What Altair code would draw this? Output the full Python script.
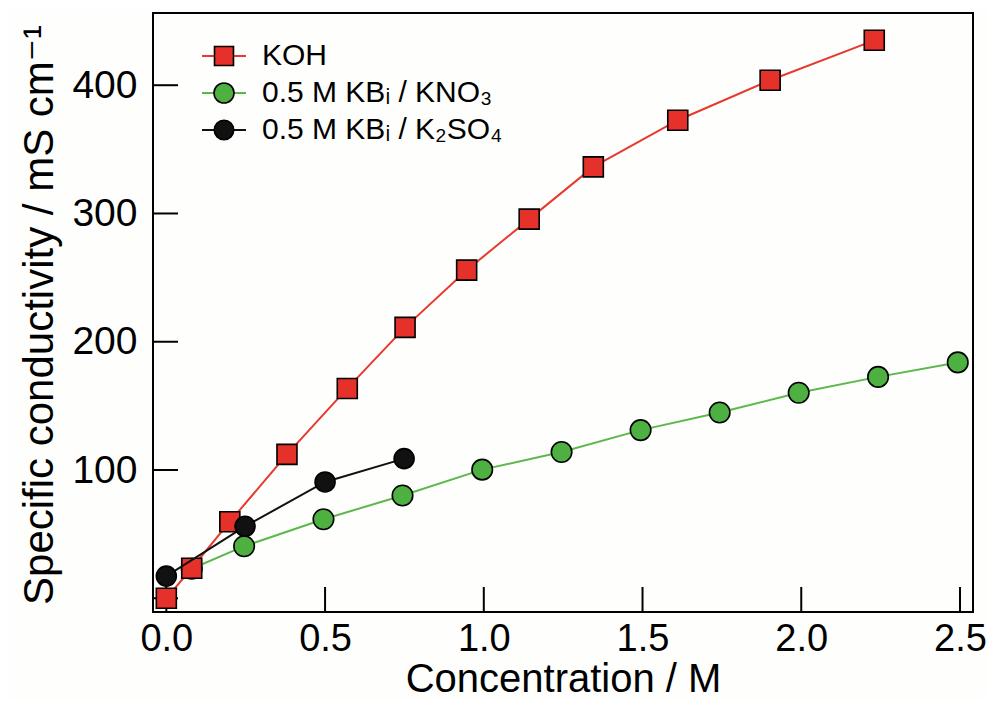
import altair as alt
import pandas as pd

# ---- data ----
koh_x = [0.0, 0.08, 0.2, 0.38, 0.57, 0.752, 0.946, 1.143, 1.345, 1.611, 1.902, 2.23]
koh_y = [0.0, 23.4, 59.7, 112.2, 163.6, 211.2, 255.8, 295.6, 336.3, 372.7, 403.9, 435.0]

kno3_x = [0.08, 0.245, 0.495, 0.744, 0.995, 1.245, 1.494, 1.743, 1.992, 2.242, 2.493]
kno3_y = [23.0, 40.6, 61.6, 80.1, 100.3, 114.0, 131.1, 144.8, 160.2, 172.6, 183.9]

k2so4_x = [0.0, 0.248, 0.5, 0.749]
k2so4_y = [17.3, 56.1, 90.7, 108.9]

x_ticks = [0.0, 0.5, 1.0, 1.5, 2.0, 2.5]
y_ticks = [0, 100, 200, 300, 400]
y_labels = [100, 200, 300, 400]

legend_labels = ["KOH", "0.5 M KBᵢ / KNO₃", "0.5 M KBᵢ / K₂SO₄"]

# ---- styles ----
RED = "#e6302a"
RED_LINE = "#e8392f"
GREEN = "#4db041"
GREEN_LINE = "#5cb84c"
BLACK = "#111111"
FONT = "Liberation Sans, Arial, DejaVu Sans"

W, H = 820, 599

xs = alt.Scale(domain=[-0.042, 2.541], nice=False, zero=False)
ys = alt.Scale(domain=[-10.7, 456.3], nice=False, zero=False)

xaxis = alt.Axis(values=x_ticks, format=".1f", title="Concentration / M",
                 ticks=False, domain=False, grid=False, labelPadding=8,
                 labelFontSize=38, titleFontSize=40, titleFontWeight="normal",
                 titleX=W / 2, titleY=79, titleBaseline="alphabetic", titleAlign="center")
yaxis = alt.Axis(values=y_labels, title="Specific conductivity / mS cm⁻¹",
                 ticks=False, domain=False, grid=False, labelPadding=16,
                 labelFontSize=39, titleFontSize=42, titleFontWeight="normal",
                 titleAngle=270, titleX=-101, titleY=H / 2 + 2, titleBaseline="alphabetic",
                 titleAlign="center")


def X(f="x"):
    return alt.X(f + ":Q", scale=xs, axis=xaxis)


def Y(f="y"):
    return alt.Y(f + ":Q", scale=ys, axis=yaxis)


def series(xv, yv, line_color, fill, shape, size):
    df = pd.DataFrame({"x": xv, "y": yv})
    line = alt.Chart(df).mark_line(color=line_color, strokeWidth=2).encode(x=X(), y=Y())
    pts = alt.Chart(df).mark_point(shape=shape, filled=True, fill=fill, stroke="black",
                                   strokeWidth=1.6, size=size, opacity=1).encode(x=X(), y=Y())
    return [line, pts]


layers = []
layers += series(kno3_x, kno3_y, GREEN_LINE, GREEN, "circle", 420)
layers += series(koh_x, koh_y, RED_LINE, RED, "square", 400)
layers += series(k2so4_x, k2so4_y, BLACK, BLACK, "circle", 400)

# inward ticks
xt = alt.Chart(pd.DataFrame({"x": x_ticks})).mark_rule(color="black", strokeWidth=2).encode(
    x=X(), y=alt.value(H - 25), y2=alt.value(H))
yt = alt.Chart(pd.DataFrame({"y": y_ticks})).mark_rule(color="black", strokeWidth=2).encode(
    y=Y(), x=alt.value(0), x2=alt.value(25))
layers = [xt, yt] + layers

# manual legend
leg_colors = [RED_LINE, GREEN_LINE, BLACK]
leg_fills = [RED, GREEN, BLACK]
leg_shapes = ["square", "circle", "circle"]
leg_sizes = [360, 400, 380]
leg_rows = [43, 80, 117]
for lab, lc, fc, sh, sz, ry in zip(legend_labels, leg_colors, leg_fills, leg_shapes, leg_sizes, leg_rows):
    d = pd.DataFrame({"label": [lab]})
    layers.append(alt.Chart(d).mark_rule(color=lc, strokeWidth=2).encode(
        x=alt.value(49), x2=alt.value(93), y=alt.value(ry)))
    layers.append(alt.Chart(d).mark_point(shape=sh, filled=True, fill=fc, stroke="black",
                                          strokeWidth=1.6, size=sz, opacity=1).encode(
        x=alt.value(71), y=alt.value(ry)))
    layers.append(alt.Chart(d).mark_text(align="left", baseline="middle", fontSize=30,
                                         font=FONT, color="black").encode(
        x=alt.value(109), y=alt.value(ry), text="label:N"))

chart = alt.layer(*layers).properties(
    width=W, height=H,
    autosize=alt.AutoSizeParams(type="none"),
    padding={"left": 145, "top": 5, "right": 14, "bottom": 88},
    background="#fefefc",
).configure_view(
    stroke="black", strokeWidth=2
).configure_axis(
    labelFont=FONT, titleFont=FONT, labelColor="black", titleColor="black"
)

chart.save("out.html", embed_options={"renderer": "svg", "actions": False})
